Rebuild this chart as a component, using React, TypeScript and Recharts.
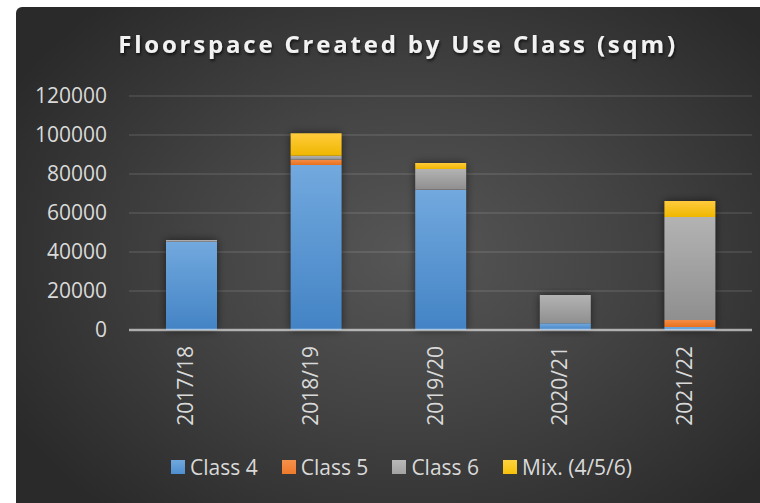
import React from 'react';
import { BarChart, Bar, XAxis, YAxis, CartesianGrid, Legend, ReferenceLine } from 'recharts';

const categories = ['2017/18', '2018/19', '2019/20', '2020/21', '2021/22'];
const class4 = [45200, 84600, 72000, 3400, 1500];
const class5 = [0, 2700, 200, 0, 3600];
const class6 = [900, 2000, 10400, 14500, 52800];
const mix = [0, 11600, 3100, 0, 8200];
const yTicks = [0, 20000, 40000, 60000, 80000, 100000, 120000];

const seriesNames = ['Class 4', 'Class 5', 'Class 6', 'Mix. (4/5/6)'];
const seriesKeys = ['c4', 'c5', 'c6', 'mix'];
const swatch = ['#4f8fd0', '#ef7a2c', '#a2a2a2', '#f7c10a'];
const grads = ['gBlue', 'gOrange', 'gGray', 'gYellow'];

const data = categories.map((c, i) => ({
  name: c,
  c4: class4[i],
  c5: class5[i],
  c6: class6[i],
  mix: mix[i],
  total: class4[i] + class5[i] + class6[i] + mix[i],
}));

const FONT = '"Open Sans", "Noto Sans", sans-serif';

const XTick = (props: any) => {
  const { x, payload } = props;
  const ax = x + 2;
  const ay = 346;
  return (
    <text
      x={ax}
      y={ay}
      transform={`rotate(-90, ${ax}, ${ay})`}
      textAnchor="end"
      fill="#d9d9d9"
      fontSize={21}
      fontFamily={FONT}
    >
      {payload.value}
    </text>
  );
};

const LegendContent = () => (
  <div
    style={{
      height: 60,
      width: 760,
      display: 'flex',
      justifyContent: 'flex-start',
      alignItems: 'flex-start',
      fontFamily: FONT,
      fontSize: 21,
      color: '#d9d9d9',
      boxSizing: 'border-box',
      paddingLeft: 171,
      paddingTop: 9,
    }}
  >
    {seriesNames.map((n, i) => (
      <div key={n} style={{ display: 'flex', alignItems: 'center', marginRight: i < 3 ? 24 : 0, height: 30 }}>
        <div
          style={{
            width: 14,
            height: 14,
            background: `linear-gradient(${['#6fa8dd', '#f5914a', '#b8b8b8', '#ffd23f'][i]}, ${swatch[i]})`,
            marginRight: 5,
          }}
        />
        <span style={{ lineHeight: '30px', whiteSpace: 'nowrap' }}>{n}</span>
      </div>
    ))}
  </div>
);

export default function App() {
  return (
    <div style={{ position: 'absolute', left: 0, top: 0, width: 760, height: 503, background: '#ffffff', overflow: 'hidden' }}>
      <div
        style={{
          position: 'absolute',
          left: 16,
          top: 7,
          width: 744,
          height: 496,
          borderTopLeftRadius: 6,
          background:
            'radial-gradient(ellipse 62% 68% at 53% 50%, #565656 0%, #444444 45%, #2a2a2a 100%)',
          backgroundColor: '#282828',
        }}
      />
      <svg width={760} height={80} style={{ position: 'absolute', left: 0, top: 0 }}>
        <defs>
          <filter id="tshadow" x="-10%" y="-50%" width="120%" height="200%">
            <feDropShadow dx="1" dy="2" stdDeviation="1.5" floodColor="#000" floodOpacity="0.7" />
          </filter>
        </defs>
        <text
          x={398}
          y={53}
          textAnchor="middle"
          fill="#f2f2f2"
          fontSize={24}
          fontWeight={700}
          fontFamily={FONT}
          letterSpacing={2.8}
          filter="url(#tshadow)"
        >
          Floorspace Created by Use Class (sqm)
        </text>
      </svg>
      <div style={{ position: 'absolute', left: 0, top: 0 }}>
        <BarChart
          width={760}
          height={503}
          data={data}
          margin={{ top: 96, right: 8, bottom: 0, left: 0 }}
          barSize={51}
        >
          <defs>
            <linearGradient id="gBlue" x1="0" y1="0" x2="0" y2="1">
              <stop offset="0%" stopColor="#72a9de" />
              <stop offset="100%" stopColor="#4383c5" />
            </linearGradient>
            <linearGradient id="gOrange" x1="0" y1="0" x2="0" y2="1">
              <stop offset="0%" stopColor="#f48d45" />
              <stop offset="100%" stopColor="#e8701c" />
            </linearGradient>
            <linearGradient id="gGray" x1="0" y1="0" x2="0" y2="1">
              <stop offset="0%" stopColor="#b3b3b3" />
              <stop offset="100%" stopColor="#8f8f8f" />
            </linearGradient>
            <linearGradient id="gYellow" x1="0" y1="0" x2="0" y2="1">
              <stop offset="0%" stopColor="#ffcb3c" />
              <stop offset="100%" stopColor="#efb700" />
            </linearGradient>
            <filter id="barShadow" x="-50%" y="-20%" width="200%" height="140%">
              <feGaussianBlur stdDeviation="4" />
            </filter>
          </defs>
          <CartesianGrid horizontal vertical={false} stroke="rgba(255,255,255,0.13)" strokeWidth={1.5} />
          <YAxis
            width={129}
            domain={[0, 120000]}
            ticks={yTicks}
            axisLine={false}
            tickLine={false}
            tickSize={0}
            tickMargin={22}
            tick={{ fill: '#d9d9d9', fontSize: 21, fontFamily: FONT }}
            interval={0}
          />
          <XAxis
            dataKey="name"
            height={113}
            axisLine={false}
            tickLine={false}
            tickSize={0}
            tick={<XTick />}
            interval={0}
          />
          <XAxis dataKey="name" xAxisId="shadow" hide />
          <Bar
            dataKey="total"
            xAxisId="shadow"
            fill="#000000"
            fillOpacity={0.55}
            filter="url(#barShadow)"
            isAnimationActive={false}
            legendType="none"
          />
          {seriesKeys.map((k, i) => (
            <Bar
              key={k}
              dataKey={k}
              name={seriesNames[i]}
              stackId="a"
              fill={`url(#${grads[i]})`}
              isAnimationActive={false}
            />
          ))}
          <ReferenceLine y={0} stroke="rgba(255,255,255,0.55)" strokeWidth={2.5} />
          <Legend verticalAlign="bottom" content={<LegendContent />} wrapperStyle={{ height: 60, left: 0, width: 760 }} />
        </BarChart>
      </div>
    </div>
  );
}
